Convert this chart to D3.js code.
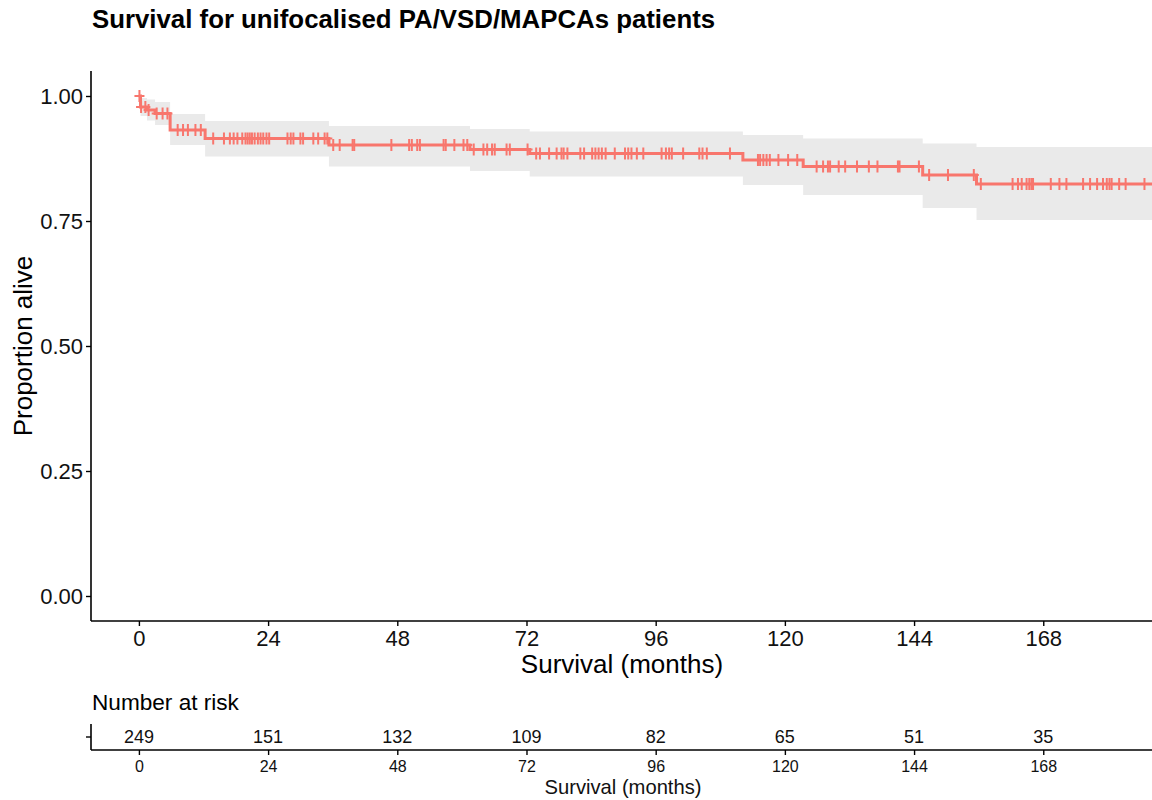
<!DOCTYPE html>
<html>
<head>
<meta charset="utf-8">
<script src="https://cdn.jsdelivr.net/npm/d3@7"></script>
<style>
  html, body { margin: 0; padding: 0; background: #fff; }
  svg { display: block; font-family: "Liberation Sans", Arial, sans-serif; }
</style>
</head>
<body>
<svg id="chart" width="1152" height="800"></svg>
<script>
// ---- data ----
const stepTimes = [0, 0.3, 1.5, 3.0, 5.8, 12.3, 35.3, 61.5, 72.6, 112.2, 123.4, 145.6, 155.6, 188.2];
const survival  = [1.0, 0.978, 0.972, 0.965, 0.932, 0.915, 0.902, 0.893, 0.885, 0.872, 0.859, 0.842, 0.824, 0.824];
const lowerCI   = [1.0, 0.960, 0.951, 0.942, 0.902, 0.879, 0.859, 0.850, 0.839, 0.822, 0.802, 0.776, 0.752, 0.752];
const upperCI   = [1.0, 0.996, 0.993, 0.988, 0.964, 0.950, 0.940, 0.934, 0.929, 0.922, 0.915, 0.905, 0.898, 0.898];
const censorTimes = [
  0.1, 0.4, 1.2, 1.8, 3.3, 4.4, 5.3,
  7.2, 8.2, 9.1, 10.5, 11.5,
  13.8, 15.8, 16.9, 17.6, 18.3, 19.2, 19.8, 20.2, 20.6, 21.0, 21.5, 22.1, 22.6, 23.1, 23.7, 24.2,
  27.6, 28.2, 28.7, 30.0, 30.5, 32.4, 33.3, 34.5, 35.0,
  36.1, 37.3, 39.7, 40.0, 46.9, 50.2, 50.7, 51.7, 52.2, 56.6, 57.0, 58.6, 60.3, 61.0,
  62.2, 64.0, 64.7, 65.6, 66.1, 68.3, 68.9, 72.2,
  73.8, 74.5, 76.2, 77.6, 78.5, 78.9, 79.6, 82.0, 82.7, 84.2, 84.8, 85.4, 86.0, 86.7, 88.4,
  90.3, 90.9, 91.5, 92.5, 93.7, 97.1, 97.9, 98.5, 99.0, 101.1, 104.1, 104.7, 105.5, 109.8,
  115.0, 115.4, 116.0, 116.6, 117.2, 118.8, 120.6, 122.3,
  125.9, 127.1, 128.0, 128.4, 130.0, 131.2, 133.4, 135.6, 137.2, 141.0, 141.3, 144.9,
  146.8, 150.3, 155.1,
  156.4, 162.3, 163.3, 164.0, 164.9, 165.4, 165.8, 166.1, 169.4, 171.0, 172.3, 175.4, 176.7,
  178.0, 179.1, 179.8, 180.3, 180.7, 182.1, 183.3, 186.8
];
const xBreaks = [0, 24, 48, 72, 96, 120, 144, 168];
const yBreaks = [0, 0.25, 0.5, 0.75, 1.0];
const riskCounts = [249, 151, 132, 109, 82, 65, 51, 35];

const titleText = "Survival for unifocalised PA/VSD/MAPCAs patients";
const xTitle = "Survival (months)";
const yTitle = "Proportion alive";
const riskTitle = "Number at risk";

// ---- layout ----
const svg = d3.select("#chart");
const panel = { left: 91, right: 1152, top: 71, bottom: 621 };
const lineColor = "#F8766D";
const ribbonColor = "#EAEAEA";

const x = d3.scaleLinear().domain([-8.9, 188.2]).range([panel.left, panel.right]);
const y = d3.scaleLinear().domain([-0.05, 1.05]).range([panel.bottom, panel.top]);

const rows = stepTimes.map((t, i) => ({ t, s: survival[i], lo: lowerCI[i], hi: upperCI[i] }));

// title
svg.append("text")
  .attr("x", 92).attr("y", 28)
  .attr("font-size", 25.8).attr("font-weight", "bold").attr("fill", "#000")
  .text(titleText);

svg.append("defs").append("clipPath").attr("id", "clip")
  .append("rect")
  .attr("x", panel.left).attr("y", panel.top)
  .attr("width", panel.right - panel.left).attr("height", panel.bottom - panel.top);

const plot = svg.append("g").attr("clip-path", "url(#clip)");

// confidence ribbon
plot.append("path")
  .datum(rows)
  .attr("fill", ribbonColor)
  .attr("d", d3.area().curve(d3.curveStepAfter)
    .x(d => x(d.t)).y0(d => y(d.lo)).y1(d => y(d.hi)));

// survival step line
plot.append("path")
  .datum(rows)
  .attr("fill", "none")
  .attr("stroke", lineColor)
  .attr("stroke-width", 3)
  .attr("d", d3.line().curve(d3.curveStepAfter).x(d => x(d.t)).y(d => y(d.s)));

// censor marks
function survAt(t) {
  let s = survival[0];
  for (let i = 0; i < stepTimes.length; i++) { if (stepTimes[i] <= t) s = survival[i]; }
  return s;
}
plot.append("g").selectAll("path")
  .data(censorTimes)
  .join("path")
  .attr("transform", t => `translate(${x(t)},${y(survAt(t))})`)
  .attr("d", "M-5,0H5M0,-6V6")
  .attr("stroke", lineColor)
  .attr("stroke-width", 2)
  .attr("fill", "none");

// axes
const yAxis = svg.append("g").attr("transform", `translate(${panel.left},0)`)
  .call(d3.axisLeft(y).tickValues(yBreaks).tickFormat(d3.format(".2f")).tickSize(5).tickPadding(3));
yAxis.select(".domain").attr("d", `M0,${panel.top}V${panel.bottom}`);
const xAxis = svg.append("g").attr("transform", `translate(0,${panel.bottom})`)
  .call(d3.axisBottom(x).tickValues(xBreaks).tickSize(5).tickPadding(3));
xAxis.select(".domain").attr("d", `M${panel.left},0H${panel.right}`);
[yAxis, xAxis].forEach(g => {
  g.selectAll(".domain").attr("stroke", "#000").attr("stroke-width", 1.6);
  g.selectAll(".tick line").attr("stroke", "#000").attr("stroke-width", 1.4);
  g.selectAll(".tick text").attr("fill", "#111").attr("font-size", 22)
    .attr("font-family", "Liberation Sans, Arial, sans-serif");
});
xAxis.selectAll(".tick text").attr("dy", "0.76em");

svg.append("text")
  .attr("x", 622).attr("y", 673)
  .attr("text-anchor", "middle").attr("font-size", 26).attr("fill", "#000")
  .text(xTitle);

svg.append("text")
  .attr("transform", `translate(32,346) rotate(-90)`)
  .attr("text-anchor", "middle").attr("font-size", 26).attr("fill", "#000")
  .text(yTitle);

// ---- risk table ----
svg.append("text")
  .attr("x", 92).attr("y", 710)
  .attr("font-size", 22.6).attr("fill", "#000")
  .text(riskTitle);

const riskG = svg.append("g");
riskG.append("line")
  .attr("x1", panel.left).attr("x2", panel.left).attr("y1", 724).attr("y2", 750)
  .attr("stroke", "#000").attr("stroke-width", 1.6);
riskG.append("line")
  .attr("x1", panel.left - 5).attr("x2", panel.left).attr("y1", 737).attr("y2", 737)
  .attr("stroke", "#000").attr("stroke-width", 1.4);

const riskAxis = svg.append("g").attr("transform", "translate(0,750)")
  .call(d3.axisBottom(x).tickValues(xBreaks).tickSize(5).tickPadding(4));
riskAxis.select(".domain").attr("d", `M${panel.left},0H${panel.right}`)
  .attr("stroke", "#000").attr("stroke-width", 1.6);
riskAxis.selectAll(".tick line").attr("stroke", "#000").attr("stroke-width", 1.4);
riskAxis.selectAll(".tick text").attr("fill", "#111").attr("font-size", 16)
  .attr("font-family", "Liberation Sans, Arial, sans-serif").attr("dy", "0.8em");

riskG.selectAll("text.risk")
  .data(riskCounts)
  .join("text")
  .attr("class", "risk")
  .attr("x", (d, i) => x(xBreaks[i]))
  .attr("y", 743)
  .attr("text-anchor", "middle")
  .attr("font-size", 18).attr("fill", "#111")
  .text(d => d);

svg.append("text")
  .attr("x", 623).attr("y", 794)
  .attr("text-anchor", "middle").attr("font-size", 20.2).attr("fill", "#111")
  .text(xTitle);
</script>
</body>
</html>
